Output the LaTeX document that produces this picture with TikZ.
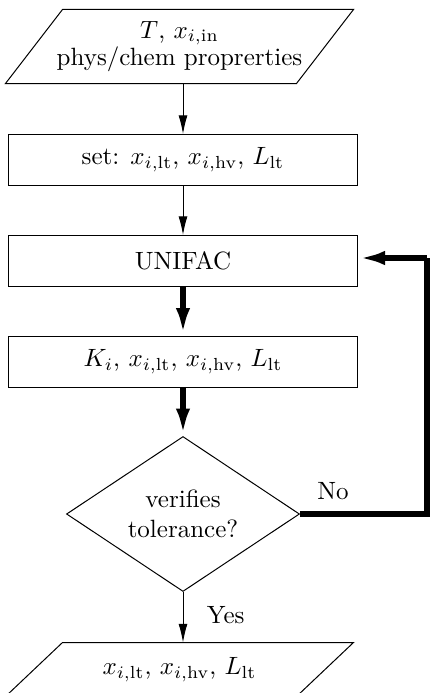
\documentclass[tikz,border=0pt]{standalone}
\usepackage{amsmath}
\usepackage{tikz}
\usetikzlibrary{shapes.geometric,arrows.meta}
\tikzstyle{iobox}=[rectangle, minimum width=116pt, inner sep=0pt, align=center]
\tikzstyle{procbox}=[rectangle, draw, minimum width=139.2pt, minimum height=20.4pt, inner sep=0pt]
\tikzstyle{decbox}=[diamond, draw, minimum width=93.2pt, minimum height=62pt, inner sep=0pt, align=center, aspect=1.5]
\tikzstyle{thin flow}=[draw, -{Latex[length=7.5pt, width=3.6pt]}]
\tikzstyle{thick flow}=[draw, line width=2.4pt, -{Latex[length=11pt, width=5.6pt]}]
\providecommand{\ioframe}[1]{\draw ([xshift=-11.4pt]#1.south west) -- ([xshift=-11.4pt]#1.south east) -- ([xshift=11.4pt]#1.north east) -- ([xshift=11.4pt]#1.north west) -- cycle;}
\begin{document}
\begin{tikzpicture}[x=0.4pt, y=-0.4pt]
\useasboundingbox (0,0) rectangle (434,693);
\node[iobox, minimum height=29.2pt] (input) at (179.5,46.5) {$T$, $x_{i,\text{in}}$\\[-1pt]phys/chem proprerties};
\node[procbox] (init) at (183,160) {set: $x_{i,\text{lt}}$, $x_{i,\text{hv}}$, $L_\text{lt}$};
\node[procbox] (unifac) at (183,261) {UNIFAC};
\node[procbox] (update) at (183,361.5) {$K_i$, $x_{i,\text{lt}}$, $x_{i,\text{hv}}$, $L_\text{lt}$};
\node[decbox] (check) at (183,514) {verifies\\tolerance?};
\node[iobox, minimum height=21.2pt] (output) at (179.5,669.5) {$x_{i,\text{lt}}$, $x_{i,\text{hv}}$, $L_\text{lt}$};
\ioframe{input}
\ioframe{output}
\coordinate (loop1) at (427,514);
\coordinate (loop2) at (427,258);
\path[thin flow] (input.south -| init) -- (init);
\path[thin flow] (init) -- (unifac);
\path[thick flow] (unifac) -- (update);
\path[thick flow] (update) -- (check);
\path[thin flow] (check) -- node[pos=0.45, right=6pt] {Yes} (output.north -| check);
\draw[line width=2.4pt] (check.east) -- node[pos=0.26, above=1pt] {No} (loop1) -- (loop2);
\path[thick flow] (loop2) -- (loop2 -| unifac.east);
\end{tikzpicture}
\end{document}
